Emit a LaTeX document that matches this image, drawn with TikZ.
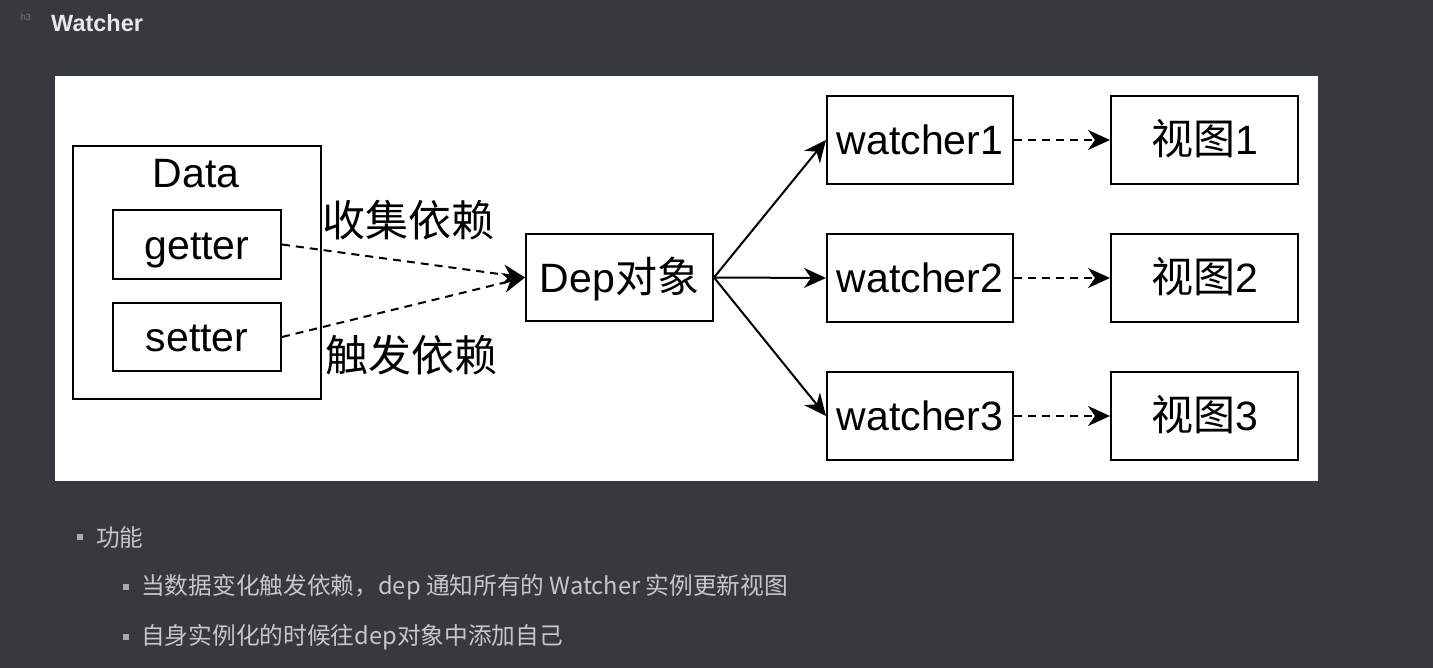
\documentclass[tikz,border=0pt]{standalone}
\usepackage{fontspec}
\setmainfont{Liberation Sans}
\newfontfamily\cjk{Noto Sans CJK SC}
\usetikzlibrary{arrows.meta}
\definecolor{bgdark}{RGB}{54,58,63}
\definecolor{txtlight}{RGB}{196,200,205}
\definecolor{headc}{RGB}{230,232,234}
\definecolor{iconc}{RGB}{120,124,130}
\begin{document}
\begin{tikzpicture}[x=1pt,y=-1pt,
  box/.style={draw=black,line width=2pt,fill=white,inner sep=0pt,text height=29.5pt,text depth=0pt,font=\fontsize{41}{44}\selectfont},
  lbl/.style={inner sep=0pt,font=\cjk\fontsize{43}{46}\selectfont},
  conn/.style={line width=2pt,-{Stealth[length=22pt,width=20pt,inset=7pt]}},
  dconn/.style={conn,dash pattern=on 8pt off 6pt},
  body/.style={inner sep=0pt,anchor=west,text=txtlight,font=\cjk\fontsize{23.7}{28}\selectfont},
  bullet/.style={fill=txtlight!80!bgdark,inner sep=0pt,minimum size=5.5pt}
]
\useasboundingbox (0,0) rectangle (1433,668);
\fill[bgdark] (0,0) rectangle (1433,668);
% header
\node[inner sep=0pt,text=iconc,font=\fontsize{9}{10}\selectfont] (icon) at (26,17) {h3};
\node[inner sep=0pt,anchor=west,text=headc,font=\bfseries\fontsize{23.5}{26}\selectfont] (title) at (51,23) {Watcher};
% panel
\fill[white] (55,76) rectangle (1318,481);
% nodes
\node[box,minimum width=248pt,minimum height=253pt] (data) at (197,272.5) {};
\node[inner sep=0pt,font=\fontsize{41}{44}\selectfont] (datalbl) at (196,174) {Data};
\node[box,minimum width=168pt,minimum height=69pt] (getter) at (197,244.5) {getter};
\node[box,minimum width=168pt,minimum height=68pt] (setter) at (197,337) {setter};
\node[box,minimum width=187pt,minimum height=87pt] (dep) at (619.5,277.5) {Dep{\cjk\fontsize{42}{44}\selectfont 对象}};
\foreach \i/\y in {1/140,2/278,3/416}{
  \node[box,minimum width=186pt,minimum height=88pt] (w\i) at (920,\y) {watcher\i};
  \node[box,minimum width=187pt,minimum height=88pt] (v\i) at (1204.5,\y) {{\cjk\fontsize{42}{44}\selectfont 视图}\i};
}
\node[lbl] (collect) at (408,220) {收集依赖};
\node[lbl] (trigger) at (411,355) {触发依赖};
% connectors
\draw[dconn] (getter.east) -- (dep.west);
\draw[dconn] (setter.east) -- (dep.west);
\foreach \i in {1,2,3}{
  \draw[conn] (dep.east) -- (w\i.west);
  \draw[dconn] (w\i.east) -- (v\i.west);
}
% bottom text
\node[bullet] (b1) at (80,537) {};
\node[body] (t1) at (96,537) {功能};
\node[bullet] (b2) at (126,587) {};
\node[body] (t2) at (141,587) {当数据变化触发依赖，dep 通知所有的 Watcher 实例更新视图};
\node[bullet] (b3) at (126,637) {};
\node[body] (t3) at (141,637) {自身实例化的时候往dep对象中添加自己};
\end{tikzpicture}
\end{document}
